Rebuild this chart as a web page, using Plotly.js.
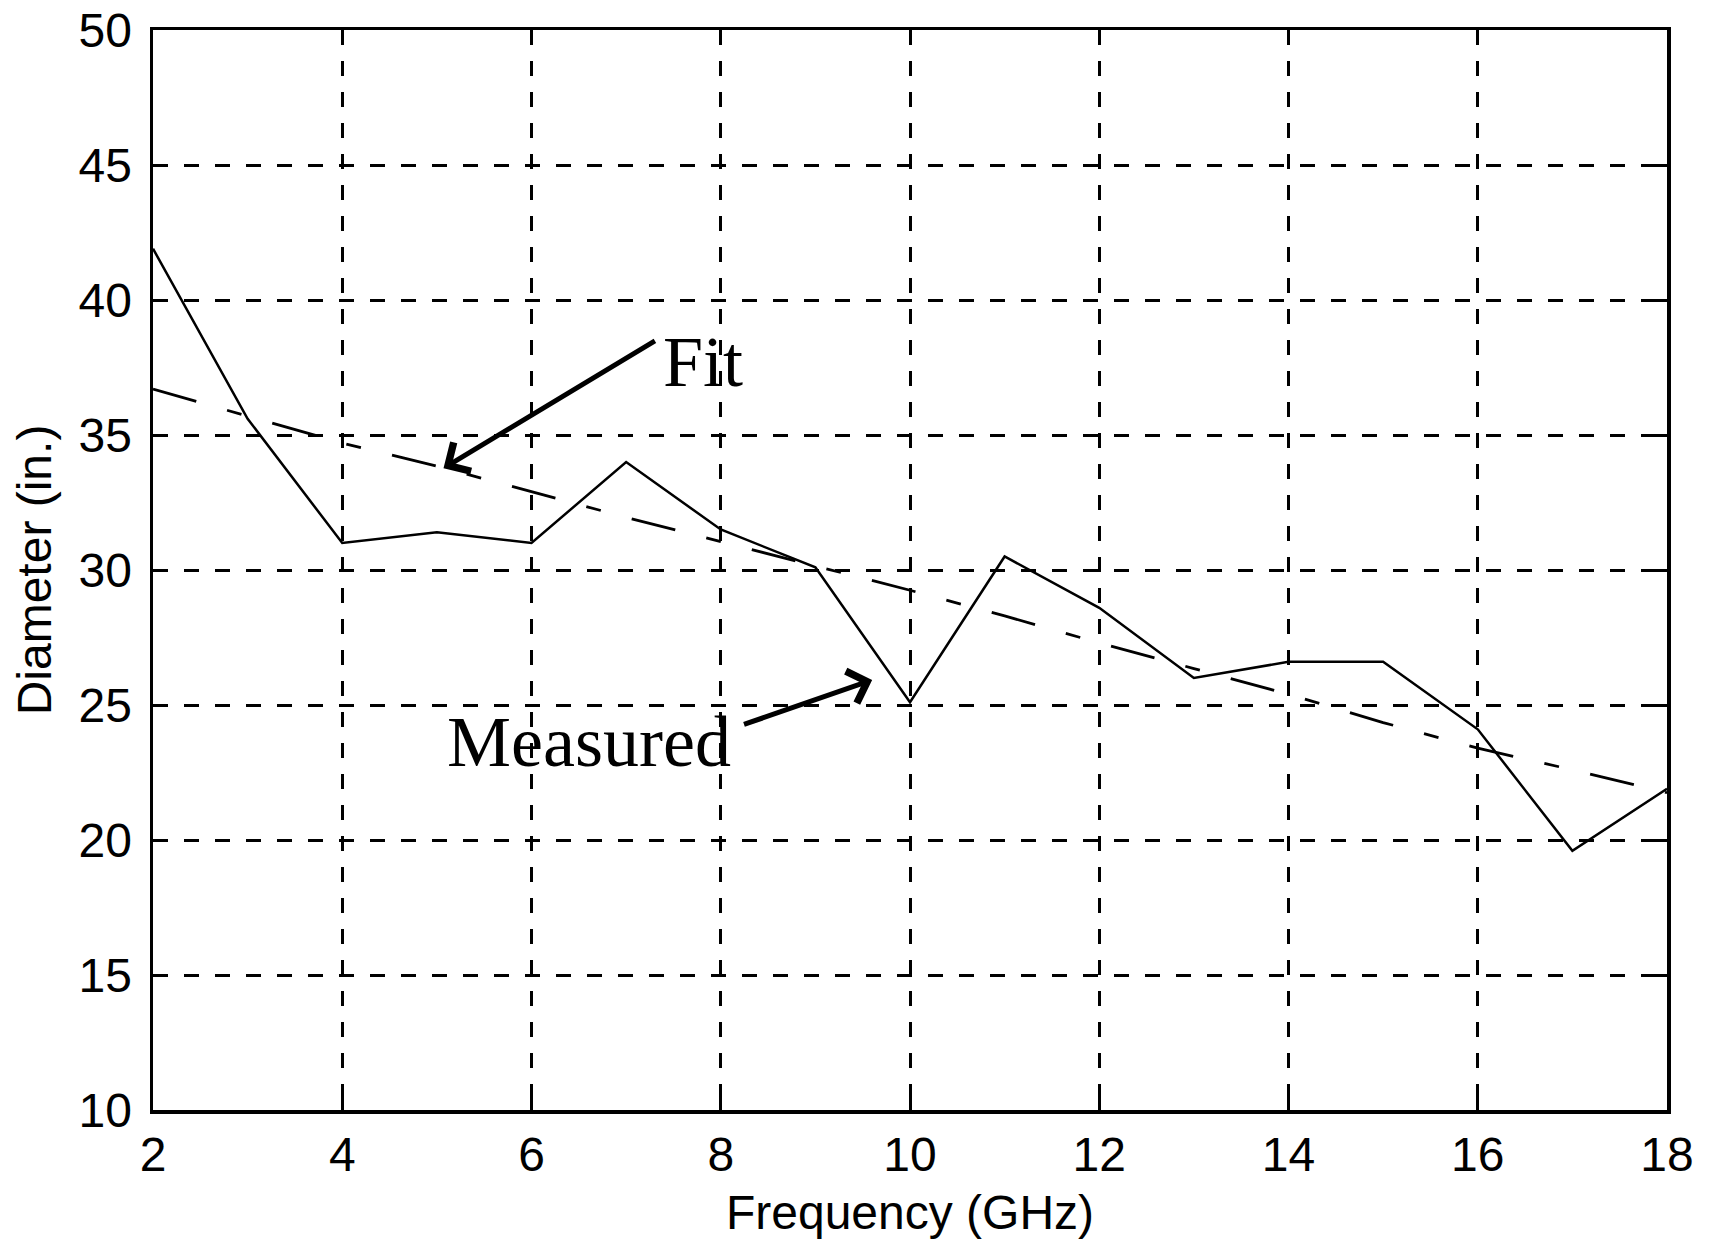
<!DOCTYPE html>
<html>
<head>
<meta charset="utf-8">
<script src="https://cdn.plot.ly/plotly-3.0.1.min.js"></script>
<style>
  html, body { margin: 0; padding: 0; background: #ffffff; }
  #chart { width: 1714px; height: 1248px; }
</style>
</head>
<body>
<div id="chart"></div>
<script>
// Frequency sweep (GHz)
const frequencyGHz = [2, 3, 4, 5, 6, 7, 8, 9, 10, 11, 12, 13, 14, 15, 16, 17, 18];
// Measured diameter (in.)
const measuredDiameter = [41.9, 35.6, 31.0, 31.4, 31.0, 34.0, 31.5, 30.1, 25.1, 30.5, 28.6, 26.0, 26.6, 26.6, 24.1, 19.6, 21.9];
// Fitted diameter (in.)
const fitDiameter = [36.7, 35.7, 34.7, 33.85, 32.9, 31.95, 31.05, 30.15, 29.25, 28.3, 27.3, 26.35, 25.4, 24.35, 23.4, 22.6, 21.75];

const xTickVals = [2, 4, 6, 8, 10, 12, 14, 16, 18];
const yTickVals = [10, 15, 20, 25, 30, 35, 40, 45, 50];

const axisFont = { family: 'Liberation Sans, Arial, sans-serif', size: 48, color: '#000000' };
const noteFont = { family: 'Liberation Serif, Times New Roman, serif', size: 72, color: '#000000' };

const traces = [
  {
    x: frequencyGHz,
    y: fitDiameter,
    mode: 'lines',
    name: 'Fit',
    line: { color: '#000000', width: 2.8, dash: '45px,32px,15px,32px' },
    hoverinfo: 'skip'
  },
  {
    x: frequencyGHz,
    y: measuredDiameter,
    mode: 'lines',
    name: 'Measured',
    line: { color: '#000000', width: 2.5 },
    hoverinfo: 'skip'
  }
];

const commonAxis = {
  showline: true,
  linecolor: '#000000',
  linewidth: 3.5,
  mirror: 'ticks',
  ticks: 'inside',
  ticklen: 14,
  tickwidth: 3,
  tickcolor: '#000000',
  showgrid: true,
  gridcolor: '#000000',
  gridwidth: 3,
  griddash: '15px,16px',
  zeroline: false,
  tickfont: axisFont
};

const layout = {
  width: 1714,
  height: 1248,
  paper_bgcolor: '#ffffff',
  plot_bgcolor: '#ffffff',
  showlegend: false,
  margin: { l: 153, r: 47, t: 30, b: 138, pad: 0 },
  xaxis: Object.assign({}, commonAxis, {
    range: [2, 18],
    tickvals: xTickVals,
    ticktext: xTickVals.map(String),
    ticklabelstandoff: 0,
    title: { text: 'Frequency (GHz)', font: axisFont, standoff: 16 }
  }),
  yaxis: Object.assign({}, commonAxis, {
    range: [10, 50],
    tickvals: yTickVals,
    ticktext: yTickVals.map(String),
    ticklabelstandoff: 8,
    title: { text: 'Diameter (in.)', font: axisFont, standoff: 12 }
  }),
  annotations: [
    {
      xref: 'x', yref: 'y', x: 7.81, y: 37.72,
      text: 'Fit', showarrow: false, font: noteFont
    },
    {
      xref: 'x', yref: 'y', x: 6.61, y: 23.62,
      text: 'Measured', showarrow: false, font: noteFont
    },
    {
      xref: 'x', yref: 'y', x: 5.07, y: 33.77,
      axref: 'x', ayref: 'y', ax: 7.32, ay: 38.52,
      text: '', showarrow: true, arrowhead: 4, arrowsize: 1.3,
      arrowwidth: 5, arrowcolor: '#000000'
    },
    {
      xref: 'x', yref: 'y', x: 9.60, y: 25.93,
      axref: 'x', ayref: 'y', ax: 8.23, ay: 24.26,
      text: '', showarrow: true, arrowhead: 4, arrowsize: 1.3,
      arrowwidth: 5, arrowcolor: '#000000'
    }
  ]
};

Plotly.newPlot('chart', traces, layout, { staticPlot: true, displayModeBar: false });
</script>
</body>
</html>
